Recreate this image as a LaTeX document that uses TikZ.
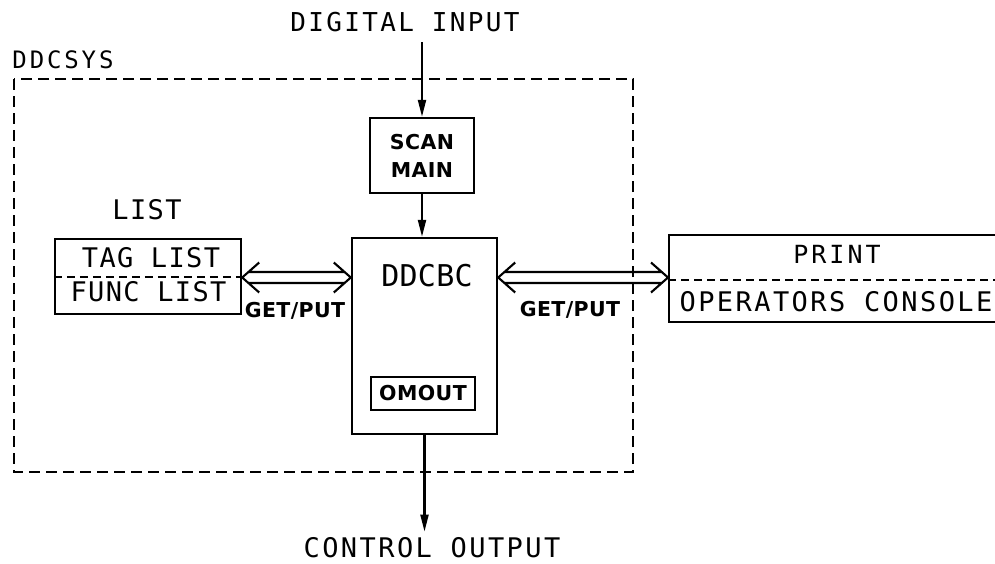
\documentclass[tikz,border=0pt]{standalone}
\usepackage{fontspec}
\setmainfont{DejaVu Sans Mono}
% lettering with different tracking
\newfontfamily\letA{DejaVu Sans Mono}[LetterSpace=5]
\newfontfamily\letB{DejaVu Sans Mono}[LetterSpace=9]
\newfontfamily\letC{DejaVu Sans Mono}[LetterSpace=12]
\newfontfamily\letD{DejaVu Sans Mono}[LetterSpace=1]
\newfontfamily\stenfont{DejaVu Sans}[LetterSpace=2]
\usetikzlibrary{arrows.meta,calc}

\tikzset{
  box/.style={draw, line width=2.4pt, inner sep=0pt},
  lbl/.style={inner sep=0pt, anchor=center, font=\fontsize{#1}{#1}\selectfont},
  lbl/.default=27,
  sm/.style={inner sep=0pt, align=center, font=\stenfont\bfseries\fontsize{20.5}{28}\selectfont},
  sysline/.style={line width=2.3pt, dash pattern=on 11pt off 6pt},
  divider/.style={line width=2pt, dash pattern=on 8pt off 5pt},
  arr/.style={line width=2.1pt, -{Triangle[length=17pt,width=8pt]}},
  dbl/.style={line width=2.1pt, line join=miter},
}

% hollow double-headed transfer arrow between two points on one level
\newcommand\transfer[2]{%
  \draw[dbl] ($(#1)+(17,-15)$) -- (#1) -- ($(#1)+(17,15)$)
             ($(#1)+(6.2,-5.5)$) -- ($(#2)+(-6.2,-5.5)$)
             ($(#1)+(6.2,5.5)$) -- ($(#2)+(-6.2,5.5)$)
             ($(#2)+(-17,-15)$) -- (#2) -- ($(#2)+(-17,15)$);}

\begin{document}
\begin{tikzpicture}[x=1pt, y=-1pt]
  \path[use as bounding box] (0,0) rectangle (995,563);
  \clip (0,0) rectangle (995,563);
  \fill[white] (0,0) rectangle (995,563);

  % system boundary
  \node[lbl=24] (sysname) at (63,60) {\letC DDCSYS};
  \draw[sysline] (14,79) rectangle (633,472);

  % input and output labels
  \node[lbl=26] (din) at (405,22) {\letB DIGITAL INPUT};
  \node[lbl=27] (cout) at (432,548) {\letB CONTROL OUTPUT};

  % scanner, base block and output module
  \node[box, sm, minimum width=104pt, minimum height=75pt] (scan) at (422,155.5) {SCAN\\MAIN};
  \node[box, minimum width=145pt, minimum height=196pt] (ddcbc) at (424.5,336) {};
  \node[lbl=30] (ddcbclbl) at (427,276) {\letD DDCBC};
  \node[box, sm, minimum width=104pt, minimum height=33pt] (omout) at (423,393.5) {OMOUT};

  % list block
  \node[lbl=27] (listname) at (147,210) {\letA LIST};
  \node[box, minimum width=186pt, minimum height=75pt] (list) at (148,276.5) {};
  \draw[divider] (list.west) -- (list.east);
  \node[lbl=27] (tag) at (151,258) {\letA TAG LIST};
  \node[lbl=27] (func) at (148.5,292) {\letA FUNC LIST};

  % print / console block, running off the right edge
  \node[box, minimum width=360pt, minimum height=87pt, anchor=west] (print) at (668,278.5) {};
  \draw[divider] ([yshift=-1.5pt]print.west) -- ([yshift=-1.5pt]print.east);
  \node[lbl=25] (prt) at (837,254) {\letC PRINT};
  \node[lbl=27] (cons) at (836,302) {\letB OPERATORS CONSOLE};

  % flow arrows
  \draw[arr] ([yshift=-10pt]din.south -| scan.north) -- (scan.north);
  \draw[arr] (scan.south) -- (scan.south |- ddcbc.north);
  \draw[arr] (ddcbc.south) -- ([yshift=6pt]cout.north -| ddcbc.south);

  % GET/PUT transfers
  \coordinate (la) at ([yshift=-1pt]list.east);
  \coordinate (lb) at (ddcbc.west |- la);
  \coordinate (ra) at (ddcbc.east |- la);
  \coordinate (rb) at (print.west |- la);
  \transfer{la}{lb}
  \transfer{ra}{rb}
  \node[sm] (gp1) at (295,311) {GET/PUT};
  \node[sm] (gp2) at (570,310) {GET/PUT};
\end{tikzpicture}
\end{document}
